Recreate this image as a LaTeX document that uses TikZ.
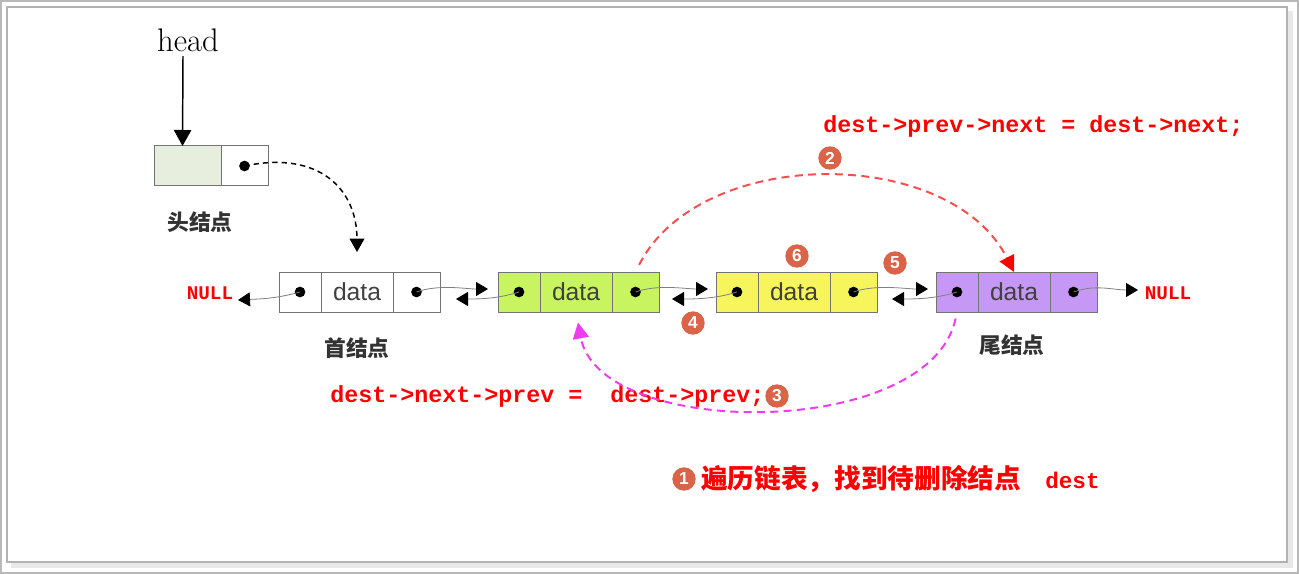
\documentclass[tikz,border=0pt]{standalone}
\usepackage{fontspec}
\usetikzlibrary{arrows.meta,positioning}
\newfontfamily\cjk{Noto Sans CJK SC}
\newfontfamily\codefont{Liberation Mono}
\newfontfamily\cellfont{Liberation Sans}

\definecolor{headgreen}{RGB}{232,238,222}
\definecolor{cellgreen}{RGB}{200,245,95}
\definecolor{cellyellow}{RGB}{246,246,92}
\definecolor{cellpurple}{RGB}{198,152,245}
\definecolor{arcred}{RGB}{245,80,80}
\definecolor{arcmag}{RGB}{240,60,240}
\definecolor{numred}{RGB}{217,100,72}

\tikzset{
  cell/.style={draw=gray!90!black,line width=0.75pt,minimum height=30pt,
    inner sep=0pt,outer sep=0pt},
  pcell/.style={cell,minimum width=31.5pt},
  dcell/.style={cell,minimum width=54pt,text=black!75,
    font=\cellfont\fontsize{18.5}{18.5}\selectfont},
  ncell/.style={cell,minimum width=35.25pt},
  link/.style={gray,line width=0.6pt,-{Triangle[length=9pt,width=10.5pt,color=black]}},
  nulltxt/.style={text=red,inner sep=0pt,font=\codefont\bfseries\fontsize{14.5}{14.5}\selectfont},
  code/.style={text=red,inner sep=0pt,anchor=west,
    font=\codefont\bfseries\fontsize{17.5}{17.5}\selectfont},
  nodecap/.style={text=black!80,font=\cjk\bfseries\fontsize{16.3}{16.3}\selectfont},
  num/.style={circle,fill=numred,text=white,inner sep=0pt,minimum size=17.5pt,
    font=\cellfont\bfseries\fontsize{13}{13}\selectfont},
}

\begin{document}
\begin{tikzpicture}[x=0.75pt,y=-0.75pt]
  % frame of the screenshot
  \useasboundingbox (0,0) rectangle (1299,574);
  \draw[gray!55,line width=1.2pt] (1,1) rectangle (1298,573);
  \fill[gray!18] (11,11) rectangle (1293,568);
  \draw[gray!60,fill=white,line width=1pt] (7,7) rectangle (1287,562);

  % head pointer and head node
  \node[font=\fontsize{24.5}{24.5}\selectfont] (headtxt) at (188,40) {head};
  \node[cell,minimum width=50.25pt,fill=headgreen,anchor=west] (h0) at (154,166) {};
  \node[ncell,right=0pt of h0] (h1) {};
  \fill (h1.center) circle (4pt);
  \draw[line width=1.1pt,-{Triangle[length=12pt,width=13pt]}]
    ([xshift=-3.75pt]headtxt.south) -- ([xshift=-3.75pt]h0.north);
  \node[nodecap] (hcap) at (200,222) {头结点};

  % the four list nodes
  \foreach \i/\x/\c in {1/279/white,2/498/cellgreen,3/716/cellyellow,4/936/cellpurple}{
    \node[pcell,fill=\c,anchor=west] (n\i p) at (\x,292) {};
    \node[dcell,fill=\c,right=0pt of n\i p] (n\i d) {data};
    \node[ncell,fill=\c,right=0pt of n\i d] (n\i n) {};
    \fill (n\i p.center) circle (4pt);
    \fill (n\i n.center) circle (4pt);
  }
  \node[nodecap] (fcap) at (357,348) {首结点};
  \node[nodecap] (tcap) at (1012,345) {尾结点};

  % head -> first node
  \draw[dashed,dash pattern=on 4pt off 3pt,line width=1.1pt,
    -{Triangle[length=10pt,width=11pt]},shorten >=15pt]
    (h1.center) .. controls (320,150) and (357,190) .. (n1d.north);

  % NULL ends
  \node[nulltxt] (nullL) at (210,293) {NULL};
  \node[nulltxt] (nullR) at (1168,293) {NULL};
  \coordinate (tL) at (238,300);
  \coordinate (tR) at (1138,290);
  \draw[link] (n1p.center) .. controls +(-25,7) and +(20,-1) .. (tL);
  \draw[link] (n4n.center) .. controls +(22,-8) and +(-25,0) .. (tR);

  % next / prev links
  \coordinate (f12) at (488,289); \coordinate (b12) at (456,299);
  \coordinate (f23) at (708,289); \coordinate (b23) at (672,299);
  \coordinate (f34) at (928,289); \coordinate (b34) at (892,299);
  \foreach \a/\b in {1/2,2/3,3/4}{
    \draw[link] (n\a n.center) .. controls +(22,-8) and +(-22,0) .. (f\a\b);
    \draw[link] (n\b p.center) .. controls +(-22,7) and +(22,0) .. (b\a\b);
  }

  % step 2: prev->next
  \node[code] (code1) at (823,126) {dest->prev->next = dest->next;};
  \draw[arcred,line width=1.5pt,dash pattern=on 6pt off 4pt,
    -{Triangle[length=12pt,width=12pt,color=red]},shorten <=6pt]
    (n2n.north) .. controls (700,145) and (950,145) .. (n4d.north);

  % step 3: next->prev
  \node[code] (code2) at (330,396) {dest->next->prev =\ \ dest->prev;};
  \draw[arcmag,line width=1.5pt,dash pattern=on 6pt off 4pt,
    -{Triangle[length=12pt,width=12pt]},shorten <=5pt,shorten >=8pt]
    (n4p.south) .. controls (930,440) and (600,440) .. (n2d.south);

  % step numbers
  \node[num] (s2) at (830,158) {2};
  \node[num] (s3) at (777,396) {3};
  \node[num] (s4) at (693,323) {4};
  \node[num] (s5) at (895,263) {5};
  \node[num] (s6) at (797,256) {6};
  \node[num] (s1) at (684,479) {1};

  % step 1
  \node[text=red,inner sep=0pt,anchor=west] (task) at (701,479)
    {{\cjk\bfseries\fontsize{20}{20}\selectfont 遍历链表，找到待删除结点}\hspace{18pt}%
     {\codefont\bfseries\fontsize{17}{17}\selectfont dest}};
\end{tikzpicture}
\end{document}
